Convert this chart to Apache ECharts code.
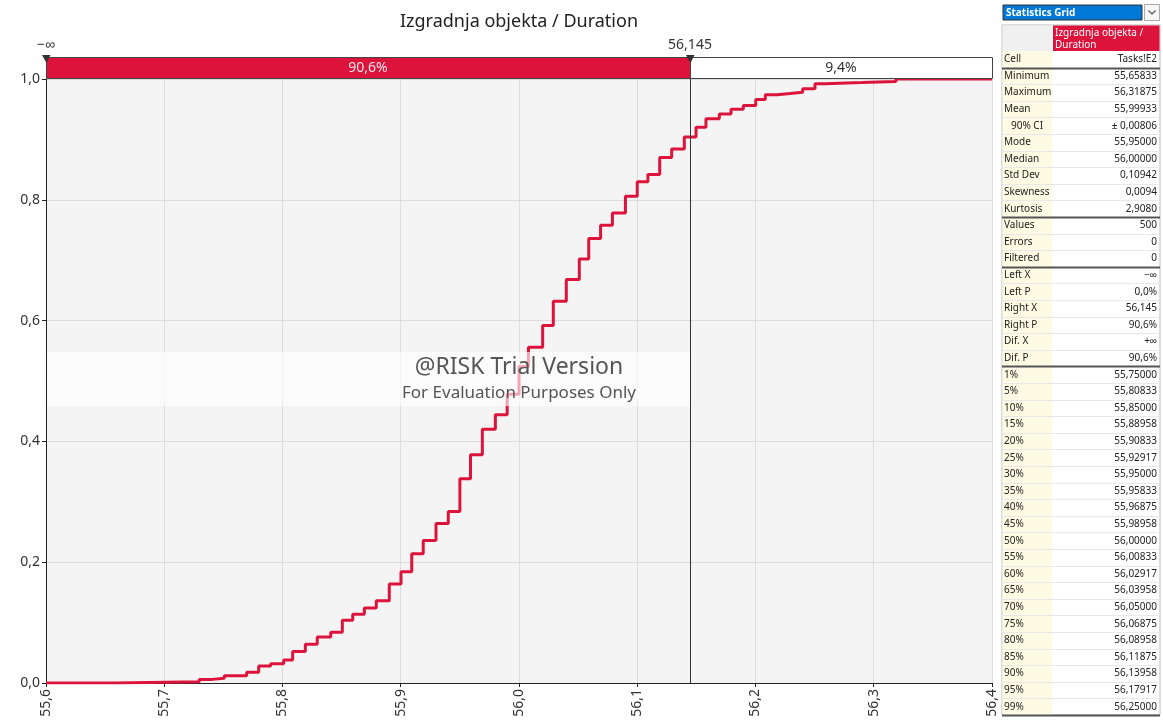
<!DOCTYPE html>
<html><head><meta charset="utf-8">
<script src="https://cdn.jsdelivr.net/npm/echarts@6.0.0/dist/echarts.min.js"></script>
<style>html,body{margin:0;padding:0;background:#fff}#c{width:1163px;height:724px}</style>
</head><body><div id="c"></div>
<script>
const chartTitle = 'Izgradnja objekta / Duration';
// cumulative step curve: x where the step rises, cumulative probability after the rise
const stepX = [55.6, 55.6583, 55.7296, 55.7406, 55.7508, 55.7697, 55.7799, 55.7900, 55.8010, 55.8086,
  55.8193, 55.8294, 55.8408, 55.8506, 55.8594, 55.8692, 55.8793, 55.8903, 55.9002, 55.9093,
  55.9190, 55.9298, 55.9402, 55.9500, 55.9590, 55.9690, 55.9800, 55.9900, 56.0000, 56.0080,
  56.0200, 56.0290, 56.0400, 56.0510, 56.0590, 56.0690, 56.0790, 56.0900, 56.1000, 56.1090,
  56.1190, 56.1291, 56.1398, 56.1497, 56.1581, 56.1694, 56.1793, 56.1897, 56.2002, 56.2083,
  56.2184, 56.2292, 56.2399, 56.2503, 56.2588, 56.2898, 56.3188, 56.4];
const stepP = [0, 0.002, 0.006, 0.008, 0.012, 0.018, 0.028, 0.032, 0.038, 0.052,
  0.064, 0.076, 0.084, 0.104, 0.114, 0.124, 0.136, 0.164, 0.184, 0.214,
  0.236, 0.264, 0.284, 0.338, 0.378, 0.420, 0.444, 0.478, 0.524, 0.556,
  0.592, 0.632, 0.668, 0.702, 0.736, 0.758, 0.778, 0.806, 0.830, 0.842,
  0.870, 0.884, 0.904, 0.920, 0.934, 0.942, 0.950, 0.956, 0.966, 0.974,
  0.976, 0.978, 0.984, 0.992, 0.994, 0.996, 1.0, 1.0];
const xMin = 55.6, xMax = 56.4, xStep = 0.1;
const yMin = 0, yMax = 1, yStep = 0.2;
const delimiterX = 56.145;
const delimiterLabels = ['−∞', '56,145'];
const regionPcts = ['90,6%', '9,4%'];
const watermark = ['@RISK Trial Version', 'For Evaluation Purposes Only'];
const panelTitle = 'Statistics Grid';
const panelHeader = ['Izgradnja objekta /', 'Duration'];
const statLabels = ['Cell','Minimum','Maximum','Mean','90% CI','Mode','Median','Std Dev','Skewness','Kurtosis',
  'Values','Errors','Filtered','Left X','Left P','Right X','Right P','Dif. X','Dif. P',
  '1%','5%','10%','15%','20%','25%','30%','35%','40%','45%','50%','55%','60%','65%','70%','75%','80%','85%','90%','95%','99%'];
const statValues = ['Tasks!E2','55,65833','56,31875','55,99933','± 0,00806','55,95000','56,00000','0,10942','0,0094','2,9080',
  '500','0','0','−∞','0,0%','56,145','90,6%','+∞','90,6%',
  '55,75000','55,80833','55,85000','55,88958','55,90833','55,92917','55,95000','55,95833','55,96875','55,98958','56,00000',
  '56,00833','56,02917','56,03958','56,05000','56,06875','56,08958','56,11875','56,13958','56,17917','56,25000'];
const statSeparators = [0, 9, 12, 18, 39];

const FONT = '"Noto Sans", sans-serif';
const RED = '#dc143c';
const fmt1 = v => (Math.round(v * 10) / 10).toFixed(1).replace('.', ',');

const chart = echarts.init(document.getElementById('c'), null, {renderer: 'canvas'});
chart.setOption({
  animation: false,
  backgroundColor: '#fff',
  textStyle: {fontFamily: FONT},
  grid: {left: 46, right: 171, top: 79, bottom: 41, show: true, backgroundColor: '#f4f4f4', borderWidth: 0, containLabel: false},
  xAxis: {
    type: 'value', min: xMin, max: xMax, interval: xStep,
    axisLine: {show: true, lineStyle: {color: '#222', width: 1}},
    axisTick: {show: true, length: 4, lineStyle: {color: '#222'}},
    splitLine: {show: true, lineStyle: {color: '#dcdcdc', width: 1}},
    axisLabel: {rotate: 90, fontSize: 14, color: '#333', margin: 6, fontFamily: FONT, formatter: v => fmt1(v)}
  },
  yAxis: {
    type: 'value', min: yMin, max: yMax, interval: yStep,
    axisLine: {show: true, lineStyle: {color: '#222', width: 1}},
    axisTick: {show: true, length: 4, lineStyle: {color: '#222'}},
    splitLine: {show: true, lineStyle: {color: '#dcdcdc', width: 1}},
    axisLabel: {fontSize: 14, color: '#333', margin: 6, fontFamily: FONT, formatter: v => fmt1(v)}
  },
  series: [{
    type: 'line', step: 'end', symbol: 'none', showSymbol: false,
    data: stepX.map((x, i) => [x, stepP[i]]),
    lineStyle: {color: RED, width: 3},
    z: 3
  }]
});

const px0 = chart.convertToPixel({xAxisIndex: 0}, xMin);
const px1 = chart.convertToPixel({xAxisIndex: 0}, xMax);
const pxD = Math.round(chart.convertToPixel({xAxisIndex: 0}, delimiterX));
const pyTop = chart.convertToPixel({yAxisIndex: 0}, yMax);
const pyBot = chart.convertToPixel({yAxisIndex: 0}, yMin);
const cx = (px0 + px1) / 2;
const barTop = pyTop - 22, barH = 21;

const g = [];
g.push({type: 'text', x: cx, y: 22, z: 20, style: {text: chartTitle, font: '18px ' + FONT, fill: '#222', align: 'center', verticalAlign: 'middle'}});
// delimiter line
g.push({type: 'line', z: 18, shape: {x1: pxD + 0.5, y1: barTop, x2: pxD + 0.5, y2: pyBot}, style: {stroke: '#333', lineWidth: 1}});
// delimiter bar
g.push({type: 'rect', z: 20, shape: {x: px0 + 0.5, y: barTop + 0.5, width: pxD - px0, height: barH}, style: {fill: RED, stroke: '#444', lineWidth: 1}});
g.push({type: 'rect', z: 20, shape: {x: pxD + 0.5, y: barTop + 0.5, width: px1 - pxD, height: barH}, style: {fill: '#fff', stroke: '#444', lineWidth: 1}});
g.push({type: 'text', z: 21, x: (px0 + pxD) / 2, y: barTop + barH / 2 + 1, style: {text: regionPcts[0], font: '14px ' + FONT, fill: '#fbe4e9', align: 'center', verticalAlign: 'middle'}});
g.push({type: 'text', z: 21, x: (pxD + px1) / 2, y: barTop + barH / 2 + 1, style: {text: regionPcts[1], font: '14px ' + FONT, fill: '#333', align: 'center', verticalAlign: 'middle'}});
[px0, pxD].forEach((p, i) => {
  g.push({type: 'polygon', z: 22, shape: {points: [[p - 4, barTop - 2], [p + 4.5, barTop - 2], [p + 0.5, barTop + 6]]}, style: {fill: '#333'}});
  g.push({type: 'text', z: 22, x: p, y: barTop - 12, style: {text: delimiterLabels[i], font: '14px ' + FONT, fill: '#333', align: 'center', verticalAlign: 'middle'}});
});
// watermark
g.push({type: 'rect', z: 15, shape: {x: px0 + 1, y: 352, width: pxD - px0 - 1, height: 54}, style: {fill: 'rgba(255,255,255,0.62)'}});
g.push({type: 'text', z: 16, x: cx, y: 367, style: {text: watermark[0], font: '23px ' + FONT, fill: '#555', align: 'center', verticalAlign: 'middle'}});
g.push({type: 'text', z: 16, x: cx, y: 393, style: {text: watermark[1], font: '17px ' + FONT, fill: '#555', align: 'center', verticalAlign: 'middle'}});

// statistics panel
const TX0 = 1002, TC = 1052, TX1 = 1160;
const rowY = i => 59.3 + 16.6 * i;
g.push({type: 'rect', z: 20, shape: {x: 1003, y: 5, width: 139, height: 15}, style: {fill: '#0078d7', stroke: '#333', lineWidth: 1}});
g.push({type: 'text', z: 21, x: 1006, y: 13, style: {text: panelTitle, font: 'bold 10px ' + FONT, fill: '#fff', align: 'left', verticalAlign: 'middle'}});
g.push({type: 'rect', z: 20, shape: {x: 1144.5, y: 4.5, width: 15, height: 16}, style: {fill: '#f6f6f6', stroke: '#aaa', lineWidth: 1}});
g.push({type: 'polyline', z: 21, shape: {points: [[1148.5, 10.5], [1152, 14], [1155.5, 10.5]]}, style: {stroke: '#555', lineWidth: 1.2, fill: null}});
const lastBottom = rowY(statLabels.length - 1) + 8.3;
g.push({type: 'rect', z: 19, shape: {x: TX0, y: 25, width: TX1 - TX0, height: lastBottom - 25}, style: {fill: '#fff', stroke: '#bbb', lineWidth: 1}});
g.push({type: 'rect', z: 20, shape: {x: TX0 + 0.5, y: 25.5, width: TC - TX0 - 0.5, height: 25.5}, style: {fill: '#f0f0f0'}});
g.push({type: 'rect', z: 20, shape: {x: TC + 1, y: 25.5, width: TX1 - TC - 1.5, height: 25.5}, style: {fill: RED}});
panelHeader.forEach((t, i) => g.push({type: 'text', z: 21, x: TC + 3, y: 33 + i * 12, style: {text: t, font: '10px ' + FONT, fill: '#fff', align: 'left', verticalAlign: 'middle'}}));
g.push({type: 'rect', z: 20, shape: {x: TX0 + 0.5, y: 51, width: TC - TX0 - 0.5, height: lastBottom - 51}, style: {fill: '#fdfbe3'}});
statLabels.forEach((lab, i) => {
  const y = rowY(i);
  const indent = lab === '90% CI' ? 7 : 0;
  g.push({type: 'text', z: 21, x: TX0 + 2 + indent, y: y, style: {text: lab, font: '10px ' + FONT, fill: '#222', align: 'left', verticalAlign: 'middle'}});
  g.push({type: 'text', z: 21, x: TX1 - 3, y: y, style: {text: statValues[i], font: '10px ' + FONT, fill: '#222', align: 'right', verticalAlign: 'middle'}});
  const by = Math.round(y + 8.3) + 0.5;
  const thick = statSeparators.indexOf(i) >= 0;
  g.push({type: 'line', z: 22, shape: {x1: TX0, y1: by, x2: TX1, y2: by}, style: {stroke: thick ? '#555' : '#e8e8e8', lineWidth: thick ? 2 : 1}});
});
chart.setOption({graphic: g});
</script>
</body></html>
